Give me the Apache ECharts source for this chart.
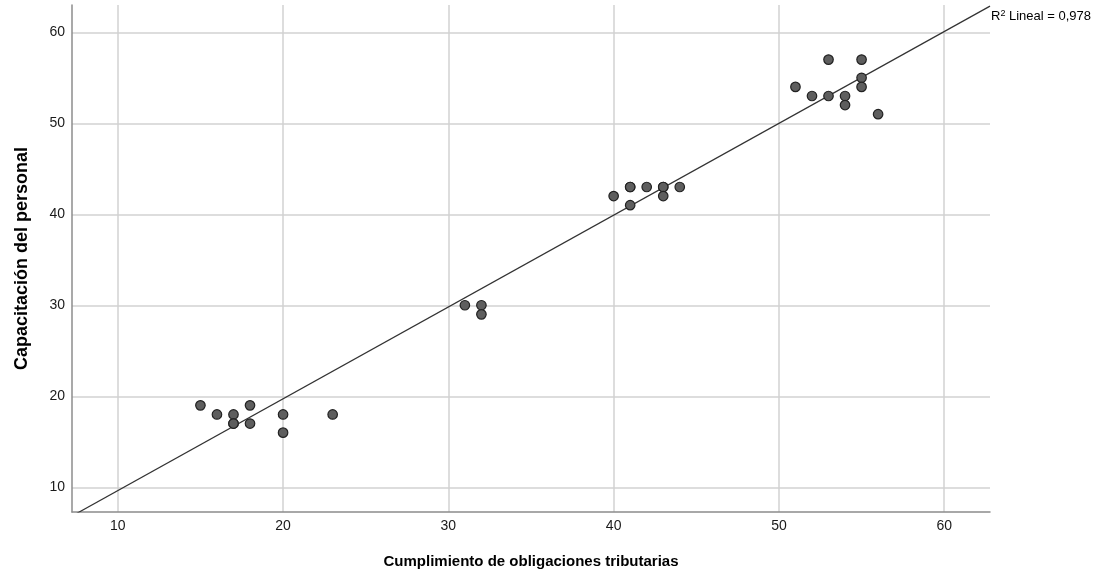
<!DOCTYPE html>
<html>
<head>
<meta charset="utf-8">
<script src="https://cdn.jsdelivr.net/npm/echarts@6/dist/echarts.min.js"></script>
<style>html,body{margin:0;padding:0;background:#fff}#c{width:1108px;height:574px}</style>
</head>
<body>
<div id="c"></div>
<script>
const cumplimiento = [53,55,51,52,53,54,54,55,55,56, 40,41,41,42,43,43,44,43,41, 31,32,32, 15,16,17,17,17,18,18,20,20,23];
const capacitacion = [57,57,54,53,53,53,52,55,54,51, 42,43,43,43,43,43,43,42,41, 30,30,29, 19,18,18,17,17,19,17,18,16,18];
const xTicks = [10,20,30,40,50,60];
const yTicks = [10,20,30,40,50,60];
const r2Text = ['R', '2', ' Lineal = 0,978'];

const points = cumplimiento.map((x,i)=>[x,capacitacion[i]]);
// least squares fit
const n = points.length;
const mx = cumplimiento.reduce((a,b)=>a+b,0)/n;
const my = capacitacion.reduce((a,b)=>a+b,0)/n;
let sxy=0, sxx=0;
for (let i=0;i<n;i++){ sxy+=(cumplimiento[i]-mx)*(capacitacion[i]-my); sxx+=(cumplimiento[i]-mx)**2; }
const slope = sxy/sxx, intercept = my - slope*mx;
const xMin = 7.23, xMax = 62.77, yMin = 7.28, yMax = 63.0;
const fitLine = [[xMin, intercept+slope*xMin],[xMax, intercept+slope*xMax]];

const chart = echarts.init(document.getElementById('c'));
const font = 'Liberation Sans, Arial, sans-serif';
chart.setOption({
  animation:false,
  grid:{left:72,right:118,top:5,bottom:62},
  xAxis:{type:'value',min:xMin,max:xMax,
    name:'Cumplimiento de obligaciones tributarias',nameLocation:'middle',nameGap:42,
    nameTextStyle:{fontFamily:font,fontSize:15,fontWeight:'bold',color:'#000'},
    axisLine:{show:true,lineStyle:{color:'#8c8c8c',width:1.5}},
    axisTick:{show:false},
    axisLabel:{fontFamily:font,fontSize:14,color:'#1a1a1a',margin:7,
      customValues:xTicks,formatter:v=>String(v)},
    splitLine:{show:true,showMinLine:false,showMaxLine:false,lineStyle:{color:'#d2d2d2',width:1.5}},
    customValues:xTicks
  },
  yAxis:{type:'value',min:yMin,max:yMax,
    name:'Capacitación del personal',nameLocation:'middle',nameGap:41,
    nameTextStyle:{fontFamily:font,fontSize:18,fontWeight:'bold',color:'#000'},
    axisLine:{show:true,lineStyle:{color:'#8c8c8c',width:1.5}},
    axisTick:{show:false},
    axisLabel:{fontFamily:font,fontSize:14,color:'#1a1a1a',margin:7,
      customValues:yTicks,formatter:v=>String(v)},
    splitLine:{show:true,showMinLine:false,showMaxLine:false,lineStyle:{color:'#d2d2d2',width:1.5}},
    customValues:yTicks
  },
  series:[
    {type:'line',data:fitLine,symbol:'none',silent:true,clip:true,
     lineStyle:{color:'#333',width:1.2},z:3,
     endLabel:{show:true,formatter:'{a|'+r2Text[0]+'}{s|'+r2Text[1]+'}{a|'+r2Text[2]+'}',offset:[-7,10],align:'left',
       rich:{a:{fontFamily:font,fontSize:13,color:'#000'},s:{fontFamily:font,fontSize:9,color:'#000',verticalAlign:'top',padding:[0,0,6,0]}}}
    },
    {type:'scatter',data:points,symbolSize:9.5,z:4,
     itemStyle:{color:'#5e5e5e',borderColor:'#222',borderWidth:1.2,opacity:1}}
  ]
});
</script>
</body>
</html>
